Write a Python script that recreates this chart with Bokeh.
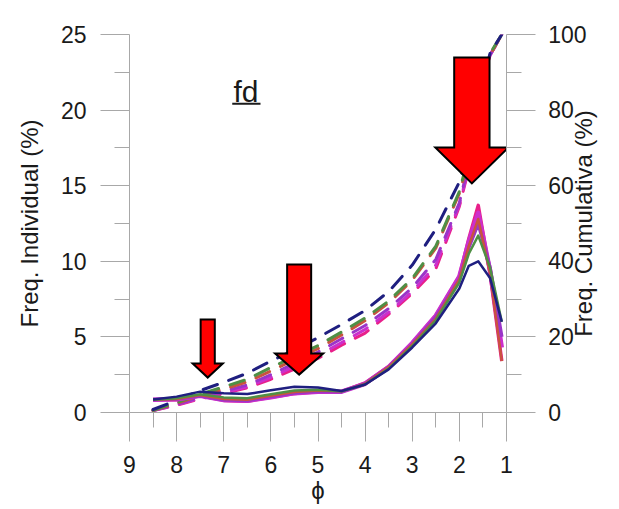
from bokeh.plotting import figure
from bokeh.layouts import row
from bokeh.models import Range1d, LinearAxis, FixedTicker, BoxAnnotation
from bokeh.core.properties import value
from bokeh.embed import file_html
from bokeh.resources import INLINE

# ---------------- data ----------------
phi = [8.5, 8.0, 7.5, 7.0, 6.5, 6.0, 5.5, 5.0, 4.5, 4.0, 3.5, 3.0, 2.5, 2.0, 1.8, 1.6, 1.35, 1.1]

ind_navy    = [0.86, 1.05, 1.38, 1.27, 1.22, 1.47, 1.70, 1.65, 1.42, 1.85, 2.85, 4.30, 5.90, 8.20, 9.70, 10.0, 8.90, 6.00]
ind_green   = [0.85, 0.95, 1.20, 1.00, 0.95, 1.20, 1.45, 1.50, 1.40, 1.85, 2.90, 4.40, 6.10, 8.60, 10.5, 11.7, 9.60, 6.00]
ind_red     = [0.85, 0.90, 1.15, 0.90, 0.85, 1.10, 1.35, 1.45, 1.40, 1.90, 3.00, 4.50, 6.20, 8.80, 11.0, 12.8, 9.20, 3.40]
ind_purple  = [0.86, 0.90, 1.10, 0.85, 0.80, 1.05, 1.30, 1.40, 1.38, 1.90, 3.00, 4.50, 6.30, 8.80, 10.9, 12.5, 9.60, 5.00]
ind_magenta = [0.85, 0.88, 1.10, 0.82, 0.78, 1.00, 1.28, 1.38, 1.38, 1.90, 3.00, 4.60, 6.40, 9.00, 11.3, 13.2, 9.40, 4.30]
ind_pink    = [0.85, 0.85, 1.10, 0.80, 0.75, 1.00, 1.25, 1.38, 1.38, 1.95, 3.05, 4.60, 6.40, 9.00, 11.5, 13.7, 9.20, 3.40]

cum_navy    = [0.8, 3.2, 5.8, 8.0, 10.4, 13.6, 16.6, 19.8, 23.3, 27.0, 32.0, 39.0, 48.5, 61.0, 70.0, 83.0, 95.0, 100.0]
cum_green   = [0.6, 2.6, 4.8, 6.8, 8.8, 11.9, 14.8, 17.7, 21.3, 25.0, 29.5, 35.5, 44.0, 58.5, 68.0, 82.0, 95.0, 100.0]
cum_red     = [0.6, 2.4, 4.5, 6.2, 8.1, 11.0, 14.0, 16.9, 20.5, 24.3, 29.0, 35.0, 43.5, 58.0, 67.0, 81.0, 94.5, 100.0]
cum_purple  = [0.5, 2.2, 4.0, 5.6, 7.3, 10.0, 13.0, 16.0, 19.5, 23.0, 27.5, 33.0, 40.5, 55.5, 66.0, 80.5, 94.5, 100.0]
cum_magenta = [0.5, 2.0, 3.8, 5.2, 6.8, 9.3, 12.2, 15.1, 18.5, 22.0, 26.5, 32.0, 39.0, 55.0, 65.0, 80.0, 94.5, 100.0]
cum_pink    = [0.5, 1.9, 3.6, 5.0, 6.5, 8.8, 11.5, 14.3, 17.8, 21.0, 26.0, 31.5, 38.0, 54.5, 64.5, 80.0, 94.5, 100.0]

x_ticks = [1, 2, 3, 4, 5, 6, 7, 8, 9]
x_minor = [1.5, 2.5, 3.5, 4.5, 5.5, 6.5, 7.5, 8.5]
y_ticks = [0, 5, 10, 15, 20, 25]
y_minor = [2.5, 7.5, 12.5, 17.5, 22.5]
y2_ticks = [0, 20, 40, 60, 80, 100]
y2_minor = [10, 30, 50, 70, 90]

# arrows (annotation): centre x, shaft half width, head half width, top, neck, tip
arrow_cx    = [7.34, 5.40, 1.735]
arrow_shaft = [0.15, 0.255, 0.375]
arrow_head  = [0.32, 0.51, 0.775]
arrow_top   = [6.15, 9.79, 23.48]
arrow_neck  = [3.24, 3.90, 17.53]
arrow_tip   = [2.31, 2.51, 15.15]

FONT = "Liberation Sans"
AXIS_GRAY = "#a8a8a8"
TXT = "#1a1a1a"
NB = "\u00a0"

p = figure(width=536, height=509, output_backend="svg", toolbar_location=None,
           x_range=Range1d(9, 1), y_range=Range1d(0, 25),
           min_border_left=129, min_border_right=30,
           min_border_top=34, min_border_bottom=97)
p.extra_y_ranges = {"cum": Range1d(0, 100)}
p.grid.visible = False
p.outline_line_color = None
p.background_fill_color = "white"
p.border_fill_color = "white"

ax2 = LinearAxis(y_range_name="cum")
p.add_layout(ax2, "right")

p.xaxis.ticker = FixedTicker(ticks=x_ticks, minor_ticks=x_minor)
p.yaxis[0].ticker = FixedTicker(ticks=y_ticks, minor_ticks=y_minor)
ax2.ticker = FixedTicker(ticks=y2_ticks, minor_ticks=y2_minor)

for ax in [p.xaxis[0], p.yaxis[0], ax2]:
    ax.axis_line_color = AXIS_GRAY
    ax.axis_line_width = 1
    ax.major_tick_line_color = AXIS_GRAY
    ax.minor_tick_line_color = AXIS_GRAY
    ax.major_tick_out = 29
    ax.major_tick_in = 0
    ax.minor_tick_out = 15
    ax.minor_tick_in = 0
    ax.major_label_text_font = FONT
    ax.major_label_text_font_size = "23px"
    ax.major_label_text_color = TXT
    ax.major_label_standoff = 14
    ax.axis_label_text_font = FONT
    ax.axis_label_text_font_size = "24px"
    ax.axis_label_text_font_style = "normal"
    ax.axis_label_text_color = TXT

p.yaxis[0].axis_label = "Freq. Individual (%)"
p.yaxis[0].axis_label_standoff = 15

# right axis of the plot: only its line and ticks; its labels and title are drawn by the side panel
ax2.major_label_overrides = {t: "" for t in y2_ticks}
ax2.major_label_standoff = 0

p.xaxis[0].axis_label = "ϕ"
p.xaxis[0].axis_label_standoff = 1

colors = {
    "navy": "#1f1f80",
    "green": "#4f8f45",
    "red": "#c9533f",
    "purple": "#9a35c8",
    "magenta": "#cc2fcc",
    "pink": "#e8208a",
}

# cumulative dashed lines (right axis)
for name, ys in [("pink", cum_pink), ("magenta", cum_magenta), ("purple", cum_purple),
                 ("red", cum_red), ("green", cum_green), ("navy", cum_navy)]:
    p.line(phi, ys, y_range_name="cum", line_color=colors[name], line_width=3,
           line_dash="15 12", line_cap="round")

# individual solid lines (left axis)
for name, ys, w in [("pink", ind_pink, 3.5), ("magenta", ind_magenta, 4.5), ("purple", ind_purple, 3.5),
                    ("red", ind_red, 2.5), ("green", ind_green, 2.5), ("navy", ind_navy, 2.5)]:
    p.line(phi, ys, line_color=colors[name], line_width=w, line_join="round")

# red arrows
axs, ays = [], []
for cx, hs, hh, top, neck, tip in zip(arrow_cx, arrow_shaft, arrow_head, arrow_top, arrow_neck, arrow_tip):
    axs.append([cx + hs, cx - hs, cx - hs, cx - hh, cx, cx + hh, cx + hs])
    ays.append([top, top, neck, neck, tip, neck, neck])
p.patches(axs, ays, fill_color="#ff0000", line_color="black", line_width=2, line_join="miter")

# "fd" label with underline
p.text(x=[6.53], y=[21.25], text=["fd"], text_font=value(FONT), text_font_size="30px",
       text_color=TXT, text_align="center", text_baseline="alphabetic")
p.add_layout(BoxAnnotation(left=6.22, right=6.82, bottom=20.36, top=20.48,
                           fill_color=TXT, fill_alpha=1, line_color=None))

# ---- side panel carrying the right-hand tick labels and title (same vertical scale 0-100) ----
p2 = figure(width=83, height=509, output_backend="svg", toolbar_location=None,
            x_range=Range1d(0, 1), y_range=Range1d(0, 100), x_axis_location=None,
            min_border_left=80, min_border_right=0,
            min_border_top=34, min_border_bottom=97)
p2.grid.visible = False
p2.outline_line_color = None
p2.background_fill_color = "white"
p2.border_fill_color = "white"
ay = p2.yaxis[0]
ay.ticker = FixedTicker(ticks=y2_ticks, minor_ticks=[])
# labels are left-aligned in the original: pad shorter ones with no-break spaces
ay.major_label_overrides = {t: str(t) + NB * (2 * (3 - len(str(t)))) for t in y2_ticks}
ay.axis_line_color = None
ay.major_tick_line_color = None
ay.minor_tick_line_color = None
ay.major_tick_out = 0
ay.major_tick_in = 0
ay.minor_tick_out = 0
ay.minor_tick_in = 0
ay.major_label_text_font = FONT
ay.major_label_text_font_size = "23px"
ay.major_label_text_color = TXT
ay.major_label_standoff = 30
ay.axis_label = "Freq. Cumulativa (%)"
ay.axis_label_text_font = FONT
ay.axis_label_text_font_size = "24px"
ay.axis_label_text_font_style = "normal"
ay.axis_label_text_color = TXT
ay.axis_label_standoff = -52

layout = row(p, p2)
open("out.html", "w").write(file_html(layout, INLINE))
